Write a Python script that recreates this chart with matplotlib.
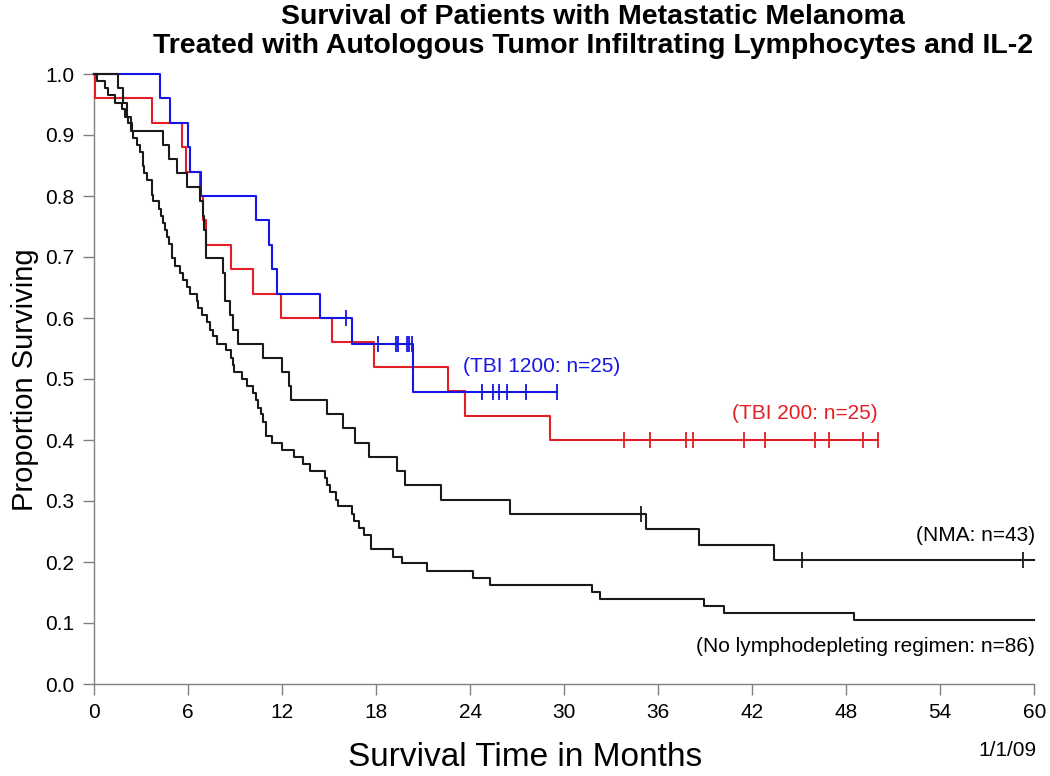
import matplotlib
matplotlib.use("Agg")
import matplotlib.pyplot as plt
import matplotlib.ticker as mticker

plt.rcParams['font.family'] = ['Liberation Sans', 'DejaVu Sans']

# No lymphodepleting regimen (n=86): event times (months) and survival after each drop
nolymph_t = [0.17, 0.70, 0.90, 1.34, 1.77, 2.00, 2.20, 2.40, 2.51, 2.72, 2.94, 3.10,
             3.21, 3.36, 3.68, 3.79, 4.15, 4.28, 4.38, 4.53, 4.68, 4.81, 4.96, 5.17,
             5.49, 5.66, 5.91, 6.13, 6.59, 6.66, 6.87, 7.23, 7.40, 7.57, 7.83, 8.42,
             8.72, 8.89, 8.93, 9.42, 9.74, 10.17, 10.34, 10.49, 10.66, 10.76, 10.98,
             11.34, 11.98, 12.76, 13.36, 13.78, 14.74, 14.89, 15.06, 15.44, 15.55,
             16.45, 16.62, 16.93, 17.24, 17.67, 19.06, 19.63, 21.27, 24.17, 25.27,
             31.76, 32.29, 38.90, 40.20, 48.50]
nolymph_s = [0.988, 0.977, 0.965, 0.953, 0.942, 0.930, 0.919, 0.907, 0.895, 0.884, 0.872, 0.849,
             0.837, 0.826, 0.802, 0.791, 0.779, 0.767, 0.756, 0.744, 0.733, 0.721, 0.698, 0.686,
             0.674, 0.663, 0.651, 0.640, 0.628, 0.616, 0.605, 0.593, 0.581, 0.570, 0.558, 0.547,
             0.535, 0.523, 0.512, 0.500, 0.488, 0.477, 0.465, 0.453, 0.442, 0.430, 0.407,
             0.395, 0.384, 0.372, 0.360, 0.349, 0.337, 0.326, 0.314, 0.302, 0.291,
             0.279, 0.267, 0.256, 0.244, 0.221, 0.209, 0.198, 0.186, 0.174, 0.163,
             0.151, 0.140, 0.128, 0.116, 0.105]
nolymph_end = 60.0

# NMA (n=43)
nma_t = [1.55, 1.85, 2.10, 2.35, 4.42, 4.79, 5.32, 5.91, 6.76, 6.95, 7.05, 7.15, 8.25, 8.36,
         8.68, 8.87, 9.18, 10.76, 11.98, 12.47, 12.55, 14.85, 15.86, 16.66, 17.56, 19.35,
         19.85, 22.17, 26.57, 35.20, 38.60, 43.40]
nma_s = [0.977, 0.953, 0.930, 0.907, 0.884, 0.860, 0.837, 0.814, 0.791, 0.767, 0.744, 0.698,
         0.674, 0.628, 0.605, 0.581, 0.558, 0.535, 0.512, 0.488, 0.465, 0.442, 0.419, 0.395,
         0.372, 0.349, 0.326, 0.302, 0.279, 0.254, 0.228, 0.203]
nma_cens = [34.89, 45.2, 59.3]
nma_end = 60.0

# TBI 200 (n=25)
tbi200_t = [0.05, 3.72, 5.62, 5.85, 6.76, 6.95, 7.15, 8.74, 10.15, 11.95, 15.17, 17.87,
            22.57, 23.68, 29.10]
tbi200_s = [0.96, 0.92, 0.88, 0.84, 0.80, 0.76, 0.72, 0.68, 0.64, 0.60, 0.56, 0.52,
            0.48, 0.44, 0.40]
tbi200_cens = [33.8, 35.5, 37.8, 38.2, 41.5, 42.8, 46.0, 46.9, 49.1, 50.0]
tbi200_end = 50.0

# TBI 1200 (n=25)
tbi1200_t = [4.20, 4.83, 6.00, 6.10, 6.83, 10.34, 11.17, 11.36, 11.66, 14.45, 16.44, 20.38]
tbi1200_s = [0.96, 0.92, 0.88, 0.84, 0.80, 0.76, 0.72, 0.68, 0.64, 0.60, 0.557, 0.478]
tbi1200_cens = [16.06, 18.1, 19.25, 19.42, 19.95, 20.12, 20.27, 24.74, 25.48, 25.87,
                26.34, 27.57, 29.57]
tbi1200_end = 29.57

x_ticks = list(range(0, 61, 6))
y_ticks = [i / 10 for i in range(11)]

BLUE = '#1515e6'
RED = '#e31e24'
BLACK = '#1a1a1a'


def km_value(times, surv, t):
    s = 1.0
    for ti, si in zip(times, surv):
        if ti <= t:
            s = si
    return s


def draw_km(ax, times, surv, end, cens, color):
    xs = [0.0] + list(times) + [end]
    ys = [1.0] + list(surv) + [surv[-1]]
    ax.step(xs, ys, where='post', color=color, lw=1.5, clip_on=False, zorder=3)
    if cens:
        cy = [km_value(times, surv, c) for c in cens]
        ax.plot(cens, cy, ls='none', marker='|', ms=12, mew=1.3, color=color,
                clip_on=False, zorder=3)


fig = plt.figure(figsize=(10.5, 7.76), dpi=100)
ax = fig.add_axes([94 / 1050, 1 - 684 / 776, (1034.3 - 94) / 1050, (684 - 74) / 776])

draw_km(ax, tbi200_t, tbi200_s, tbi200_end, tbi200_cens, RED)
draw_km(ax, tbi1200_t, tbi1200_s, tbi1200_end, tbi1200_cens, BLUE)
draw_km(ax, nolymph_t, nolymph_s, nolymph_end, [], BLACK)
draw_km(ax, nma_t, nma_s, nma_end, nma_cens, BLACK)

ax.set_xlim(0, 60)
ax.set_ylim(0, 1)
ax.set_xticks(x_ticks)
ax.set_yticks(y_ticks)
ax.yaxis.set_major_formatter(mticker.FormatStrFormatter('%.1f'))
for side in ['top', 'right']:
    ax.spines[side].set_visible(False)
for side in ['left', 'bottom']:
    ax.spines[side].set_color('#808080')
    ax.spines[side].set_linewidth(1.0)
ax.tick_params(direction='out', length=8, width=1.0, color='#808080',
               labelsize=15, labelcolor='black', pad=6)

# curve labels
ax.text(23.55, 0.52, '(TBI 1200: n=25)', color=BLUE, fontsize=15, ha='left', va='center')
ax.text(50.03, 0.444, '(TBI 200: n=25)', color=RED, fontsize=15, ha='right', va='center')
ax.text(60.05, 0.244, '(NMA: n=43)', color='black', fontsize=15, ha='right', va='center')
ax.text(60.05, 0.061, '(No lymphodepleting regimen: n=86)', color='black', fontsize=15,
        ha='right', va='center')

# titles and axis labels
fig.text(593 / 1050, 1 - 17 / 776, 'Survival of Patients with Metastatic Melanoma',
         fontsize=20.5, fontweight='bold', ha='center', va='center')
fig.text(593 / 1050, 1 - 46 / 776,
         'Treated with Autologous Tumor Infiltrating Lymphocytes and IL-2',
         fontsize=20.5, fontweight='bold', ha='center', va='center')
fig.text(525 / 1050, 1 - 758 / 776, 'Survival Time in Months', fontsize=24,
         ha='center', va='center')
fig.text(25 / 1050, 1 - 380 / 776, 'Proportion Surviving', fontsize=21,
         rotation=90, ha='center', va='center')
fig.text(1036 / 1050, 1 - 750 / 776, '1/1/09', fontsize=15, ha='right', va='center')

fig.savefig('out.png', dpi=100)
